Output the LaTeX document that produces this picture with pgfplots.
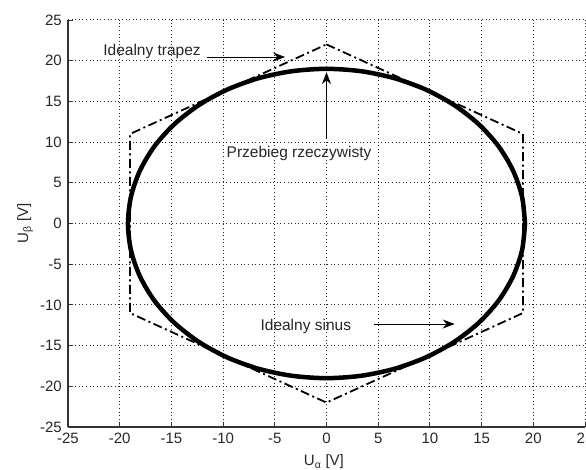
\documentclass[border=0pt]{standalone}
\usepackage{fontspec}
\setmainfont{Liberation Sans}
\usepackage{pgfplots}
\pgfplotsset{compat=1.18}
\usetikzlibrary{arrows.meta}
\begin{document}
\begin{tikzpicture}
\fontsize{15bp}{17bp}\selectfont
\begin{axis}[
  name=ax,
  scale only axis,
  width=517bp, height=407bp,
  xmin=-25, xmax=25, ymin=-25, ymax=25,
  xtick={-25,-20,...,25}, ytick={-25,-20,...,25},
  axis x line=bottom, axis y line=left,
  axis line style={-, line width=1.3bp, black!80},
  tick style={black!80, line width=0.9bp},
  tick align=inside,
  major tick length=5bp,
  grid=major,
  major grid style={black!85, line width=1bp, dash pattern=on 1bp off 2.6bp},
  /pgf/number format/assume math mode=true,
  ticklabel style={font=\fontsize{15bp}{17bp}\selectfont, text=black!85},
  xticklabel style={yshift=-1bp},
  yticklabel style={xshift=-1bp},
  xlabel={U\textsubscript{α} [V]},
  ylabel={U\textsubscript{β} [V]},
  every axis x label/.style={at={(axis description cs:0.495,0)}, anchor=center, yshift=-35bp, font=\fontsize{15bp}{17bp}\selectfont, text=black!85},
  every axis y label/.style={at={(axis description cs:-0.083,0.5)}, anchor=center, rotate=90, font=\fontsize{15bp}{17bp}\selectfont, text=black!85},
  clip=false,
]
% ideal trapezoid (hexagon)
\addplot[black, line width=1.8bp, dash pattern=on 9bp off 3.5bp on 2bp off 3.5bp] coordinates {
(0,22) (19,11) (19,-11) (0,-22) (-19,-11) (-19,11) (0,22)
};
% real trace
\addplot[black, line width=4.5bp, smooth] coordinates {
(19.2,0) (18.91,3.30) (18.04,6.50) (16.63,9.50) (14.71,12.21) (12.34,14.55) (9.60,16.45) (6.57,17.85) (3.33,18.71) (0,19)
(-3.33,18.71) (-6.57,17.85) (-9.60,16.45) (-12.34,14.55) (-14.71,12.21) (-16.63,9.50) (-18.04,6.50) (-18.91,3.30) (-19.2,0)
(-18.91,-3.30) (-18.04,-6.50) (-16.63,-9.50) (-14.71,-12.21) (-12.34,-14.55) (-9.60,-16.45) (-6.57,-17.85) (-3.33,-18.71) (0,-19)
(3.33,-18.71) (6.57,-17.85) (9.60,-16.45) (12.34,-14.55) (14.71,-12.21) (16.63,-9.50) (18.04,-6.50) (18.91,-3.30) (19.2,0)
};
% annotations
\node[anchor=west, text=black!85, font=\fontsize{15.5bp}{17bp}\selectfont, inner sep=0pt] at (axis cs:-21.6,21.1) {Idealny trapez};
\draw[-{Stealth[length=12bp,width=9bp]}, line width=1bp, black] (axis cs:-11.6,20.45) -- (axis cs:-4.0,20.45);
\node[anchor=center, text=black!85, font=\fontsize{15.5bp}{17bp}\selectfont, inner sep=0pt] at (axis cs:-2.65,8.6) {Przebieg rzeczywisty};
\draw[-{Stealth[length=12bp,width=9bp]}, line width=1bp, black] (axis cs:0,10.5) -- (axis cs:0,18.6);
\node[anchor=center, text=black!85, font=\fontsize{15.5bp}{17bp}\selectfont, inner sep=0pt] at (axis cs:-2.0,-12.7) {Idealny sinus};
\draw[-{Stealth[length=12bp,width=9bp]}, line width=1bp, black] (axis cs:4.6,-12.35) -- (axis cs:12.4,-12.35);
\end{axis}
\pgfresetboundingbox
\useasboundingbox ([shift={(-68bp,-43bp)}]ax.south west) rectangle ([shift={(1bp,20bp)}]ax.north east);
\end{tikzpicture}
\end{document}
